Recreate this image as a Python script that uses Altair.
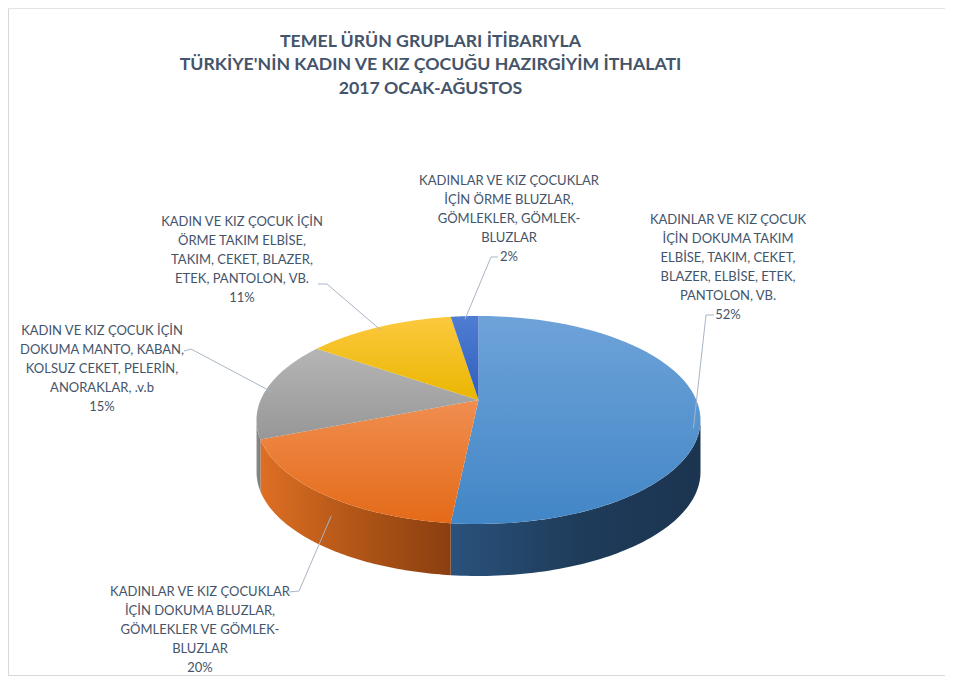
import altair as alt
import pandas as pd

# ---------------- data ----------------
order = [0, 1, 2, 3, 4]
groups = [
    "KADINLAR VE KIZ ÇOCUK\nİÇİN DOKUMA TAKIM\nELBİSE, TAKIM, CEKET,\nBLAZER, ELBİSE, ETEK,\nPANTOLON, VB.",
    "KADINLAR VE KIZ ÇOCUKLAR\nİÇİN DOKUMA BLUZLAR,\nGÖMLEKLER  VE GÖMLEK-\nBLUZLAR",
    "KADIN VE KIZ ÇOCUK İÇİN\nDOKUMA MANTO, KABAN,\nKOLSUZ CEKET, PELERİN,\nANORAKLAR, .v.b",
    "KADIN VE KIZ ÇOCUK İÇİN\nÖRME  TAKIM ELBİSE,\nTAKIM, CEKET, BLAZER,\nETEK, PANTOLON, VB.",
    "KADINLAR VE KIZ ÇOCUKLAR\nİÇİN ÖRME BLUZLAR,\nGÖMLEKLER,  GÖMLEK-\nBLUZLAR",
]
shares = [52, 20, 15, 11, 2]
pct_labels = ["52%", "20%", "15%", "11%", "2%"]

title_lines = [
    "TEMEL ÜRÜN GRUPLARI İTİBARIYLA",
    "TÜRKİYE'NİN  KADIN VE KIZ ÇOCUĞU HAZIRGİYİM İTHALATI",
    "2017 OCAK-AĞUSTOS",
]

# ---------------- layout (pixels of the plot area) ----------------
W, H = 937, 668
CX, CY = 470.5, 412.0      # centre of the top ellipse
RX, RY = 222.0, 104.0      # radii of the top ellipse
APEX = -20.0 / RY          # perspective: point where slices meet
DEPTH = 52.0 / RY          # thickness of the pie
N = 72

def ux(px):
    return (px - 8 - CX) / RX

def vy(py):
    return (py - 8 - CY) / RY

# label blocks: centre x, first-line baseline y (page pixels)
label_px = [(728, 224), (200, 596), (102, 335), (242, 226), (509, 185)]
# leader start / elbow points (page pixels)
lead0 = [(714, 315), (289, 592), (184, 351), (318, 284), (498, 257)]
lead1 = [(706, 315), (299, 591), (191, 349), (327, 284), (491, 257)]

top_grad = [
    ["#6ea3d9", "#4286c6"],
    ["#f08e50", "#e46a18"],
    ["#b5b5b5", "#979797"],
    ["#fcc93f", "#eab600"],
    ["#4f7dd2", "#2f5fbd"],
]
side_grad = [
    [("#2a527c", 0), ("#1f3c5b", 0.5), ("#1b3450", 1)],
    [("#de6f24", 0), ("#b55818", 0.45), ("#8a3e10", 1)],
    [("#8e8e8e", 0), ("#7a7a7a", 1)],
    [("#c99a00", 0), ("#a88000", 1)],
    [("#2a4f9a", 0), ("#213f7d", 1)],
]
TEXT = "#44546a"
LEADER = "#a9b5c6"

df = pd.DataFrame({
    "order": order,
    "grp": groups,
    "value": shares,
    "text": [g + "\n" + p for g, p in zip(groups, pct_labels)],
    "tx": [ux(p[0]) for p in label_px],
    "ty": [vy(p[1]) for p in label_px],
    "lx0": [ux(p[0]) for p in lead0],
    "ly0": [vy(p[1]) for p in lead0],
    "lx1": [ux(p[0]) for p in lead1],
    "ly1": [vy(p[1]) for p in lead1],
})

xs = alt.Scale(domain=[-CX / RX, (W - CX) / RX], nice=False, zero=False)
ys = alt.Scale(domain=[-CY / RY, (H - CY) / RY], nice=False, zero=False, reverse=True)
X = alt.X("u:Q", scale=xs, axis=None)
Y = alt.Y("v:Q", scale=ys, axis=None)

base = (
    alt.Chart(df)
    .transform_joinaggregate(total="sum(value)")
    .transform_window(cum="sum(value)", sort=[alt.SortField("order")], frame=[None, 0])
    .transform_calculate(
        a0="2*PI*(datum.cum-datum.value)/datum.total",
        a1="2*PI*datum.cum/datum.total",
    )
)

top = (
    base.transform_calculate(seq=f"sequence(0, {N + 2})")
    .transform_flatten(["seq"], as_=["i"])
    .transform_calculate(t=f"datum.a0 + (datum.a1-datum.a0)*(datum.i-1)/{N}")
    .transform_calculate(
        u="datum.i==0 ? 0 : sin(datum.t)",
        v=f"datum.i==0 ? {APEX} : -cos(datum.t)",
    )
)

side = (
    base.transform_calculate(s0="max(datum.a0, PI/2)", s1="min(datum.a1, 3*PI/2)")
    .transform_filter("datum.s1 > datum.s0")
    .transform_calculate(seq=f"sequence(0, {2 * N + 2})")
    .transform_flatten(["seq"], as_=["i"])
    .transform_calculate(
        t=f"datum.i <= {N} ? datum.s0 + (datum.s1-datum.s0)*datum.i/{N} : "
          f"datum.s1 - (datum.s1-datum.s0)*(datum.i-{N + 1})/{N}"
    )
    .transform_calculate(
        u="sin(datum.t)",
        v=f"-cos(datum.t) + (datum.i > {N} ? {DEPTH} : 0)",
    )
)

layers = []
for k in order:
    stops = [{"offset": o, "color": c} for c, o in side_grad[k]]
    layers.append(
        side.transform_filter(f"datum.order == {k}")
        .mark_line(
            fill={"gradient": "linear", "x1": 0, "x2": 1, "y1": 0, "y2": 0, "stops": stops},
            strokeOpacity=0,
        )
        .encode(x=X, y=Y, order="i:Q")
    )
for k in order:
    stops = [{"offset": 0, "color": top_grad[k][0]}, {"offset": 1, "color": top_grad[k][1]}]
    layers.append(
        top.transform_filter(f"datum.order == {k}")
        .mark_line(
            fill={"gradient": "linear", "x1": 0, "x2": 0, "y1": 0, "y2": 1, "stops": stops},
            strokeOpacity=0,
        )
        .encode(x=X, y=Y, order="i:Q")
    )

leaders = (
    base.transform_calculate(m="(datum.a0+datum.a1)/2")
    .transform_calculate(
        ex="0.97*sin(datum.m)",
        ey=f"-0.97*cos(datum.m) + {0.6 * DEPTH}*max(0, -cos(datum.m))",
    )
    .transform_calculate(seq="sequence(0, 3)")
    .transform_flatten(["seq"], as_=["i"])
    .transform_calculate(
        u="datum.i==0 ? datum.lx0 : (datum.i==1 ? datum.lx1 : datum.ex)",
        v="datum.i==0 ? datum.ly0 : (datum.i==1 ? datum.ly1 : datum.ey)",
    )
    .mark_line(color=LEADER, strokeWidth=1)
    .encode(x=X, y=Y, order="i:Q", detail="order:N")
)
layers.append(leaders)

labels = (
    alt.Chart(df)
    .mark_text(
        align="center", baseline="alphabetic", lineBreak="\n", lineHeight=19,
        font="Lato", fontSize=13, color=TEXT,
    )
    .encode(
        x=alt.X("tx:Q", scale=xs, axis=None),
        y=alt.Y("ty:Q", scale=ys, axis=None),
        text="text:N",
    )
)
layers.append(labels)

frame_l = alt.Chart(df).mark_rule(color="#d9d9d9").encode(
    x=alt.value(0.5), y=alt.value(0), y2=alt.value(H))
frame_b = alt.Chart(df).mark_rule(color="#d9d9d9").encode(
    x=alt.value(0), x2=alt.value(W), y=alt.value(H - 0.5))
frame_t = alt.Chart(df).mark_rule(color="#e4e4e4").encode(
    x=alt.value(0), x2=alt.value(W), y=alt.value(0.5))
layers += [frame_l, frame_b, frame_t]

chart = (
    alt.layer(*layers)
    .properties(
        width=W, height=H,
        autosize=alt.AutoSizeParams(type="none"),
        padding=0,
        title=alt.TitleParams(
            text=title_lines, anchor="middle", dx=-46, offset=-108,
            font="Lato", fontSize=17.7, fontWeight="bold", color=TEXT,
            lineHeight=23.5, baseline="bottom",
        ),
    )
    .configure_view(strokeWidth=0)
    .configure(background="white")
)

chart.save("out.html", embed_options={"renderer": "svg", "actions": False})
